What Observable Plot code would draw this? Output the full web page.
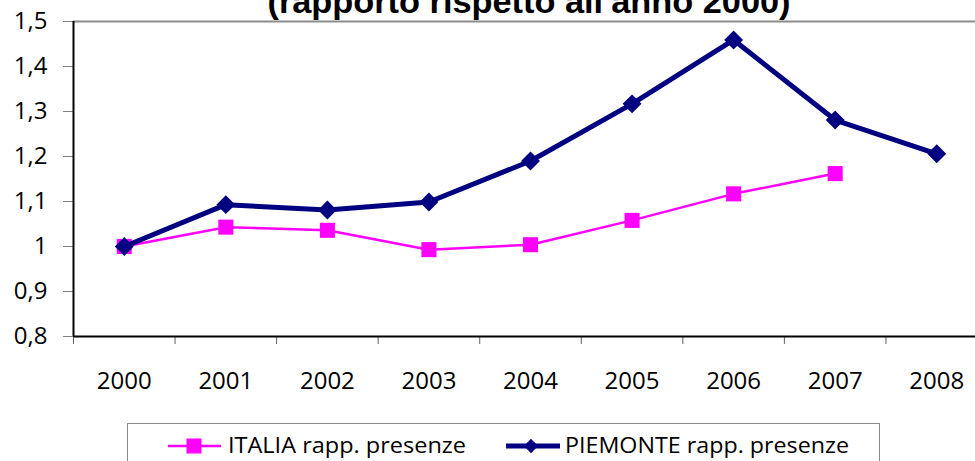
<!DOCTYPE html>
<html>
<head>
<meta charset="utf-8">
<script src="https://cdn.jsdelivr.net/npm/d3@7"></script>
<script src="https://cdn.jsdelivr.net/npm/@observablehq/plot@0.6"></script>
<style>
  html, body { margin: 0; padding: 0; background: #fff; }
  #wrap { position: relative; width: 975px; height: 461px; overflow: hidden; }
  #legend { position: absolute; left: 127px; top: 423px; width: 751px; height: 60px;
            border: 1px solid #8c8c8c; border-bottom: none; background: #fff; }
</style>
</head>
<body>
<div id="wrap">
  <div id="chart"></div>
  <div id="legend"></div>
</div>
<script>
const title = "(rapporto rispetto all'anno 2000)";
const years = [2000, 2001, 2002, 2003, 2004, 2005, 2006, 2007, 2008];
const italia = [1.000, 1.043, 1.036, 0.993, 1.004, 1.058, 1.117, 1.162, null];
const piemonte = [1.000, 1.093, 1.081, 1.099, 1.190, 1.317, 1.459, 1.281, 1.206];
const yTicks = [0.8, 0.9, 1.0, 1.1, 1.2, 1.3, 1.4, 1.5];
const seriesNames = ["ITALIA rapp. presenze", "PIEMONTE rapp. presenze"];
const colors = ["#FF00FF", "#000080"];

const italiaData = years.map((x, i) => ({x, y: italia[i]})).filter(d => d.y != null);
const piemonteData = years.map((x, i) => ({x, y: piemonte[i]}));
const bounds = [...years.map(y => y - 0.5), years[years.length - 1] + 0.5];
const fmt = d => (Math.round(d * 10) / 10).toString().replace(".", ",");

const chart = Plot.plot({
  width: 975,
  height: 410,
  marginLeft: 73,
  marginRight: -12,
  marginTop: 21,
  marginBottom: 74,
  style: {fontFamily: "'Open Sans', sans-serif", fontSize: "24px", color: "#000", background: "#fff"},
  x: {type: "linear", domain: [1999.5, 2008.5], label: null},
  y: {domain: [0.8, 1.5], label: null},
  marks: [
    Plot.ruleY([1.5], {stroke: "#8c8c8c", strokeWidth: 2}),
    Plot.axisY({ticks: yTicks, tickFormat: fmt, tickSize: 10, tickPadding: 16, stroke: "#808080", fontSize: 24, label: null}),
    Plot.axisX({ticks: years, tickSize: 0, tickPadding: 35, tickFormat: d => String(d), fontSize: 24, label: null}),
    Plot.axisX({ticks: bounds, tickSize: 8, tickFormat: () => "", stroke: "#606060", label: null}),
    Plot.ruleY([0.8], {stroke: "#000", strokeWidth: 2}),
    Plot.ruleX([1999.5], {stroke: "#000", strokeWidth: 2}),
    Plot.line(italiaData, {x: "x", y: "y", stroke: colors[0], strokeWidth: 2.5}),
    Plot.dot(italiaData, {x: "x", y: "y", symbol: "square", fill: colors[0], r: 8.5}),
    Plot.line(piemonteData, {x: "x", y: "y", stroke: colors[1], strokeWidth: 5}),
    Plot.dot(piemonteData, {x: "x", y: "y", symbol: "diamond2", fill: colors[1], r: 8.5}),
    Plot.text([title], {frameAnchor: "top", text: d => d, lineAnchor: "bottom", dy: -9, dx: -1.5,
      fontSize: 34, fontWeight: "bold", fontFamily: "'Liberation Sans', Arial, sans-serif",
      fill: "#000", className: "ttl"})
  ]
});
d3.select(chart).selectAll(".ttl text").attr("textLength", 523).attr("lengthAdjust", "spacingAndGlyphs");
document.getElementById("chart").appendChild(chart);

// Legend
const lg = d3.select("#legend").append("svg").attr("width", 751).attr("height", 40)
  .style("font-family", "'Open Sans', sans-serif").style("font-size", "21px");
const items = [
  {name: seriesNames[0], color: colors[0], x1: 40, x2: 93, cx: 66, text: 100, len: 238, sw: 2.5, sym: "square"},
  {name: seriesNames[1], color: colors[1], x1: 378, x2: 432, cx: 403, text: 437, len: 284, sw: 5, sym: "diamond"}
];
for (const it of items) {
  lg.append("line").attr("x1", it.x1).attr("x2", it.x2).attr("y1", 22).attr("y2", 22)
    .attr("stroke", it.color).attr("stroke-width", it.sw);
  if (it.sym === "square") {
    lg.append("rect").attr("x", it.cx - 7.5).attr("y", 22 - 7.5).attr("width", 15).attr("height", 15).attr("fill", it.color);
  } else {
    lg.append("path").attr("d", d3.symbol(d3.symbolDiamond2, 130)()).attr("transform", `translate(${it.cx},22)`).attr("fill", it.color);
  }
  lg.append("text").attr("x", it.text).attr("y", 29).attr("textLength", it.len)
    .attr("lengthAdjust", "spacingAndGlyphs").attr("fill", "#000").text(it.name);
}
</script>
</body>
</html>
